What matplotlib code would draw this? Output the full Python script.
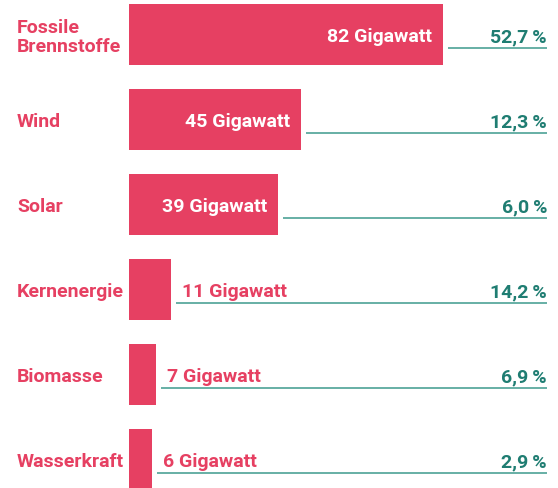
"""
Installierte Leistung nach Energieträger: Balken in Gigawatt, rechts der Anteil an der Stromerzeugung.
"""

import matplotlib.pyplot as plt

categories = ['Fossile\nBrennstoffe', 'Wind', 'Solar', 'Kernenergie', 'Biomasse', 'Wasserkraft']
gigawatt = [82, 45, 39, 11, 7, 6]
share_labels = ['52,7', '12,3', '6,0', '14,2', '6,9', '2,9']

PINK = '#e64062'
TEAL_TEXT = '#1f7d72'
TEAL_LINE = '#5aa99e'
FONT = ['Roboto', 'DejaVu Sans']

W, H = 558, 488
X0 = 129                     # pixel of the zero line
PX_PER_GW = 314 / 82
ROW_PX = 85
FIRST_ROW_PX = 34.5

fig = plt.figure(figsize=(W / 100, H / 100), dpi=100)
ax = fig.add_axes([0, 0, 1, 1])
ax.set_xlim(-X0 / PX_PER_GW, (W - X0) / PX_PER_GW)
ax.set_ylim((H - FIRST_ROW_PX) / ROW_PX, -FIRST_ROW_PX / ROW_PX)
ax.axis('off')

px_x = 1 / PX_PER_GW   # one pixel in x data units
px_y = 1 / ROW_PX      # one pixel in y data units
right_edge = (547 - X0) * px_x
label_x = (17 - X0) * px_x

rows = range(len(categories))
ax.barh(rows, gigawatt, height=61 * px_y, left=0, color=PINK, linewidth=0)

for i, (cat, gw, share) in enumerate(zip(categories, gigawatt, share_labels)):
    base = i + 7.5 * px_y
    # category label on the left (baseline of the last line is used)
    if '\n' in cat:
        ax.text(label_x, i + 17.5 * px_y, cat, ha='left', va='baseline', color=PINK,
                fontsize=14, fontweight='bold', family=FONT, linespacing=1.05)
    else:
        ax.text(label_x, base, cat, ha='left', va='baseline', color=PINK,
                fontsize=14, fontweight='bold', family=FONT)

    # underline from bar end to the right edge
    line_start = gw + 5 * px_x
    ax.plot([line_start, right_edge], [i + 13.5 * px_y] * 2, color=TEAL_LINE, lw=1.3,
            solid_capstyle='butt')

    # value label: inside for long bars, outside for short ones
    if gw > 20:
        ax.text(gw - 11 * px_x, base, '{0:d} Gigawatt'.format(gw), ha='right', va='baseline',
                color='white', fontsize=14, fontweight='bold', family=FONT)
    else:
        ax.text(gw + 11 * px_x, base, '{0:d} Gigawatt'.format(gw), ha='left', va='baseline',
                color=PINK, fontsize=14, fontweight='bold', family=FONT)

    ax.text(right_edge, base, share + '\u2009%', ha='right', va='baseline',
            color=TEAL_TEXT, fontsize=14, fontweight='bold', family=FONT)

fig.savefig('out.png', dpi=100)
